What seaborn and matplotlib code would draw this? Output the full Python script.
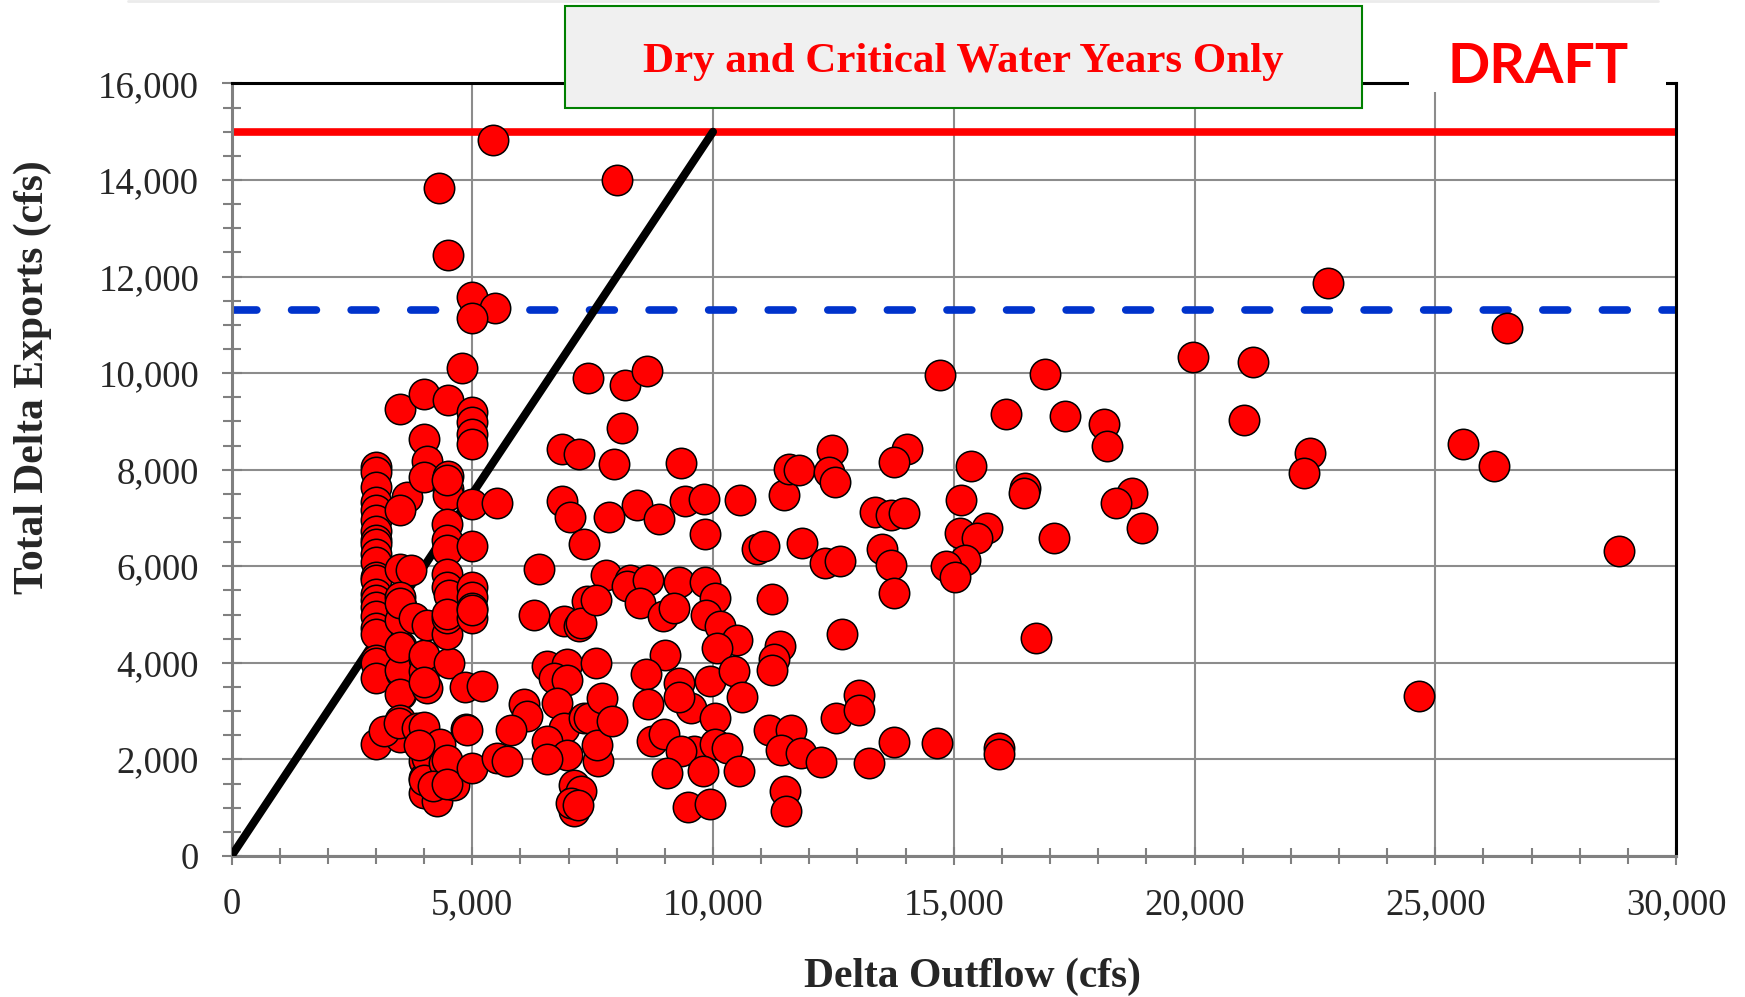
import matplotlib
matplotlib.use("Agg")
import matplotlib.pyplot as plt
import seaborn as sns
import pandas as pd
from matplotlib.ticker import MultipleLocator, FuncFormatter
from matplotlib.patches import Rectangle
from matplotlib.lines import Line2D

# Monthly Delta outflow (cfs) and total Delta exports (cfs), dry and critical years
delta_outflow = [
    5440, 4310, 8000, 4490, 5000, 5480, 5000, 4790, 22770, 26480, 19970, 21220, 21030,
    22400, 22280, 25580, 26210, 24660, 28820,
    3000, 3000, 3000, 3000, 3000, 3000, 3000, 3000, 3000, 3000, 3000, 3000, 3000, 3000,
    3000, 3000, 3000, 3000, 3000, 3000, 3000, 3000, 3000,
    3500, 3650, 3500, 3500, 3720, 3500, 3520, 3510, 3510, 3510, 3490, 3490, 3490, 3490,
    3490, 3170, 3480, 3490, 3490,
    4000, 4000, 4070, 4000, 4000, 4000, 4070, 4000, 3790, 4070, 3860, 4000, 4000, 4000,
    4000, 4000, 4050, 4000, 4270, 4340, 4410, 4620, 4180, 3900,
    4500, 4500, 4500, 4500, 4480, 4480, 4480, 4480, 4480, 4520, 4480, 4480, 4520, 4480,
    4480, 4480, 4480,
    5000, 5000, 5000, 5000, 5000, 5000, 5000, 5000, 5000, 5000, 5000, 5000, 4840, 4880,
    5210, 4900,
    5520, 5520, 5730,
    6870, 7210, 6870, 7040, 7320, 6380, 7400, 6280, 6900, 7210, 7390, 6560, 6970, 6700,
    6970, 6760, 6070, 6140, 5800, 6900, 7320, 6560, 6970, 6560, 7110, 7110, 7110, 7250,
    7250, 7050, 7200,
    8180, 8630, 8100, 7940, 9340, 8420, 8870, 7850, 9410, 9810, 9830, 7770, 8280, 8220,
    8660, 9290, 9840, 10050, 7560, 8480, 8960, 9200, 9860, 10150, 10500, 10080, 9010,
    8600, 9290, 9940, 10430, 10600, 8640, 9540, 10050, 9290, 7420, 7700, 7560, 8730,
    8980, 9600, 10050, 10290, 9330, 9040, 9800, 10530, 9480, 9940, 7620, 7600, 7900,
    10570, 11470, 11570, 11780, 12470, 12400, 12540, 13370, 10910, 11050, 11850, 12330,
    12640, 11220, 12680, 11400, 11260, 11220, 11170, 11610, 11420, 11830, 12250, 11490,
    11520, 12550, 13040, 13040, 13230,
    14720, 16900, 16090, 17310, 18120, 18190, 14030, 13760, 15350, 16480, 16450, 15150,
    18710, 18370, 18900, 17090, 15690, 15140, 15480, 15240, 14830, 15030, 13690, 13970,
    13520, 13690, 13760, 16700, 13760, 14660, 15950, 15950,
]
total_exports = [
    14840, 13830, 14000, 12450, 11580, 11360, 11140, 10100, 11870, 10930, 10340, 10240, 9040,
    8350, 7930, 8530, 8070, 3320, 6320,
    8050, 7950, 7640, 7330, 7160, 6950, 6740, 6540, 6470, 6260, 6090, 5780, 5710, 5430,
    5300, 5150, 4970, 4720, 4600, 4050, 4000, 3690, 2310,
    9250, 7430, 7170, 5950, 5920, 5360, 5170, 4345, 3790, 3345, 4880, 3850, 3360, 2810,
    2470, 2590, 2760, 4330, 5230,
    9560, 8640, 8190, 7860, 4070, 3830, 3480, 4170, 4930, 4790, 2650, 1960, 1620, 1310,
    3600, 2670, 2020, 1570, 1140, 2310, 1930, 1480, 1450, 2300,
    9450, 7880, 7610, 7470, 6880, 6540, 6330, 5850, 5570, 4000, 4590, 4930, 5410, 5020,
    7780, 1980, 1500,
    9190, 8990, 8740, 8540, 7300, 6430, 5570, 5360, 4930, 5140, 1830, 5090, 3500, 2640,
    3520, 2620,
    7320, 2030, 1960,
    8430, 8330, 7360, 7020, 6470, 5950, 9900, 5000, 4860, 4760, 5280, 3930, 3970, 3690,
    3650, 3170, 3140, 2900, 2620, 2650, 2860, 2380, 2100, 2000, 1480, 1140, 930, 4830,
    1340, 1100, 1050,
    9760, 10040, 8870, 8110, 8140, 7260, 6980, 7020, 7350, 7400, 6670, 5810, 5710, 5590,
    5710, 5670, 5670, 5350, 5300, 5240, 4970, 5140, 5000, 4760, 4480, 4310, 4170,
    3760, 3590, 3630, 3830, 3290, 3140, 3070, 2860, 3290, 2860, 3280, 4000, 2380,
    2520, 2170, 2310, 2240, 2170, 1720, 1760, 1760, 1010, 1080, 1960, 2300, 2800,
    7380, 7470, 8020, 8000, 8400, 7960, 7740, 7120, 6360, 6430, 6490, 6070,
    6120, 5320, 4590, 4345, 4070, 3860, 2620, 2620, 2190, 2140, 1950, 1340,
    930, 2860, 3340, 3030, 1930,
    9960, 9980, 9150, 9110, 8950, 8500, 8420, 8160, 8080, 7630, 7520, 7380,
    7520, 7320, 6800, 6580, 6800, 6690, 6580, 6130, 6010, 5770, 7070, 7100,
    6350, 6030, 5450, 4520, 2370, 2340, 2230, 2110,
]

# Reference limits
export_limit = 15000          # maximum total exports
pumping_capacity = 11300      # combined pumping capacity
ratio_line_x = [0, 10000]     # exports = 1.5 x outflow
ratio_line_y = [0, 15000]

x_major = 5000
y_major = 2000

data = pd.DataFrame({"outflow": delta_outflow, "exports": total_exports})

sns.set_style("white")
plt.rcParams["font.family"] = ["Liberation Serif", "DejaVu Serif"]

W, H = 1745, 997
fig = plt.figure(figsize=(W / 100, H / 100), dpi=100)
ax = fig.add_axes([231.5 / W, 141 / H, 1444.5 / W, 772.5 / H])

# Reference lines
ax.axhline(export_limit, color="#ff0000", lw=5.5, zorder=2, solid_capstyle="butt")
ax.axhline(pumping_capacity, color="#0033cc", lw=5.5, zorder=2,
           dashes=(3.25, 4.55), dash_capstyle="round")
sns.lineplot(x=ratio_line_x, y=ratio_line_y, color="black", lw=5.8, ax=ax, zorder=3,
             solid_capstyle="round")

# Monthly observations
sns.scatterplot(data=data, x="outflow", y="exports", s=480, color="#ff0000",
                edgecolor="black", linewidth=1.1, ax=ax, zorder=4, legend=False)

ax.set_xlim(0, 30000)
ax.set_ylim(0, 16000)
ax.xaxis.set_major_locator(MultipleLocator(x_major))
ax.xaxis.set_minor_locator(MultipleLocator(1000))
ax.yaxis.set_major_locator(MultipleLocator(y_major))
ax.yaxis.set_minor_locator(MultipleLocator(500))
fmt = FuncFormatter(lambda v, p: f"{v:,.0f}")
ax.xaxis.set_major_formatter(fmt)
ax.yaxis.set_major_formatter(fmt)

ax.grid(True, which="major", color="#8c8c8c", lw=1.5)
ax.set_axisbelow(True)

for side in ("left", "bottom"):
    ax.spines[side].set_color("#808080")
    ax.spines[side].set_linewidth(2.2)
for side in ("top", "right"):
    ax.spines[side].set_color("black")
    ax.spines[side].set_linewidth(2.2)

ax.tick_params(which="both", bottom=True, left=True, top=False, right=False,
               direction="inout", color="#808080", width=1.5)
ax.tick_params(axis="x", which="major", length=13, labelsize=26.5, pad=16)
ax.tick_params(axis="x", which="minor", length=11)
ax.tick_params(axis="y", which="major", length=14.5, labelsize=26.5, pad=16)
ax.tick_params(axis="y", which="minor", length=12.4)

ax.set_xlabel("Delta Outflow (cfs)", fontsize=30, fontweight="bold")
ax.set_ylabel("Total Delta Exports (cfs)", fontsize=30, fontweight="bold")
ax.xaxis.set_label_coords(0.513, -0.132)
ax.yaxis.set_label_coords(-0.1243, 0.62)

# Faint rule along the top of the page
fig.add_artist(Line2D([128 / W, 1658 / W], [1 - 1.5 / H, 1 - 1.5 / H],
                      transform=fig.transFigure, color="#ebebeb", lw=2))

# Title box
fig.add_artist(Rectangle((565 / W, 1 - 108 / H), 797 / W, 102.4 / H,
                         transform=fig.transFigure, facecolor="#f0f0f0",
                         edgecolor="#008000", lw=1.5, zorder=10))
fig.text(963.5 / W, 1 - 72 / H, "Dry and Critical Water Years Only", color="#ff0000",
         fontsize=31, fontweight="bold", ha="center", va="baseline", zorder=11)

# Draft stamp
fig.add_artist(Rectangle((1409 / W, 1 - 92 / H), 257 / W, 70 / H,
                         transform=fig.transFigure, facecolor="white",
                         edgecolor="none", zorder=10))
fig.text(1538 / W, 1 - 83 / H, "DRAFT", color="#ff0000", fontsize=40,
         fontweight="bold", family=["Lato", "DejaVu Sans"], ha="center",
         va="baseline", zorder=11)

fig.savefig("out.png", dpi=100)
